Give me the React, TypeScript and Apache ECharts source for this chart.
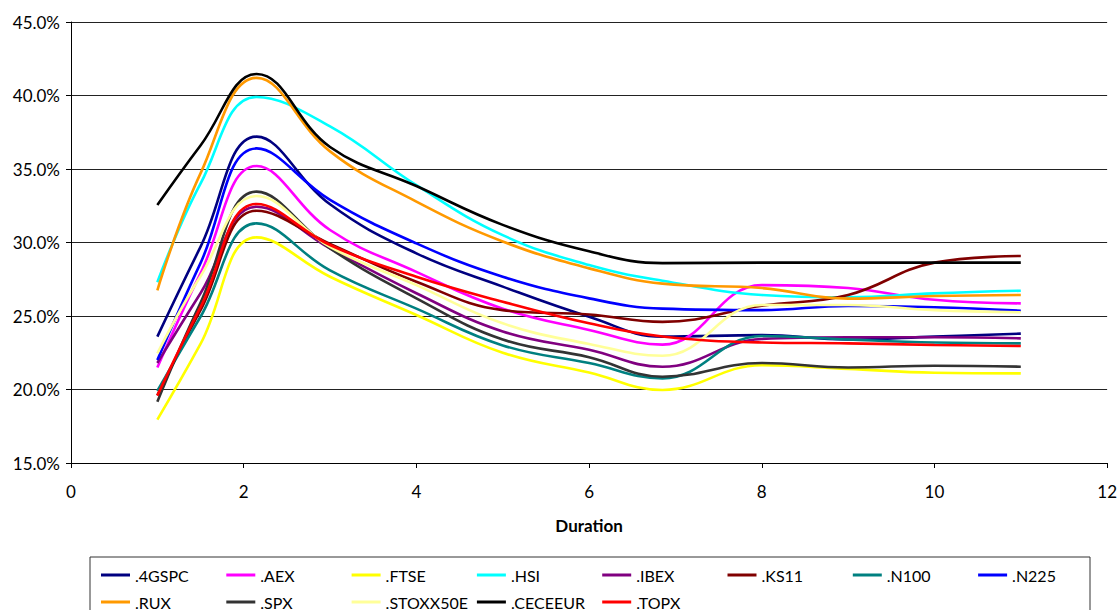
import React, { useEffect, useRef } from "react";
import * as echarts from "echarts";

const durations = [1, 1.5, 2.15, 3, 4, 5, 6, 6.85, 8, 9, 10, 11];

const seriesNames = [
  ".4GSPC", ".AEX", ".FTSE", ".HSI", ".IBEX", ".KS11", ".N100", ".N225",
  ".RUX", ".SPX", ".STOXX50E", ".CECEEUR", ".TOPX",
];

const seriesColors = [
  "#000080", "#FF00FF", "#FFFF00", "#00FFFF", "#800080", "#800000", "#008080", "#0000FF",
  "#FF9900", "#333333", "#FFFF99", "#000000", "#FF0000",
];

const gspc = [23.6, 29.7, 37.2, 32.6, 29.26, 27.0, 24.95, 23.6, 23.7, 23.4, 23.6, 23.8];
const aex = [21.5, 27.9, 35.2, 30.85, 28.0, 25.5, 24.05, 23.05, 27.1, 26.9, 26.1, 25.86];
const ftse = [17.95, 23.1, 30.35, 27.67, 25.07, 22.5, 21.15, 19.97, 21.65, 21.4, 21.14, 21.1];
const hsi = [27.3, 34.0, 39.9, 37.9, 33.9, 30.5, 28.47, 27.4, 26.43, 26.27, 26.54, 26.72];
const ibex = [21.8, 26.55, 32.43, 29.6, 26.55, 23.95, 22.7, 21.55, 23.44, 23.55, 23.55, 23.48];
const ks11 = [19.6, 25.4, 32.16, 29.9, 27.33, 25.4, 25.1, 24.6, 25.7, 26.43, 28.63, 29.08];
const n100 = [19.9, 24.95, 31.3, 28.1, 25.5, 23.0, 21.8, 20.76, 23.64, 23.4, 23.2, 23.14];
const n225 = [22.0, 28.6, 36.4, 32.9, 29.94, 27.67, 26.2, 25.5, 25.4, 25.68, 25.6, 25.36];
const rux = [26.75, 34.7, 41.2, 36.2, 32.78, 30.07, 28.24, 27.2, 26.9, 26.18, 26.36, 26.43];
const spx = [19.17, 25.9, 33.46, 29.6, 26.2, 23.4, 22.2, 20.87, 21.8, 21.5, 21.62, 21.55];
const stoxx = [22.46, 27.7, 33.16, 29.7, 27.1, 24.5, 23.1, 22.3, 25.75, 25.75, 25.4, 25.25];
const cece = [32.55, 36.6, 41.46, 36.5, 33.84, 31.2, 29.4, 28.6, 28.63, 28.63, 28.63, 28.63];
const topx = [19.58, 25.6, 32.62, 29.83, 27.67, 25.97, 24.5, 23.6, 23.2, 23.14, 23.03, 22.96];

const seriesValues = [gspc, aex, ftse, hsi, ibex, ks11, n100, n225, rux, spx, stoxx, cece, topx];

const yTicks = { min: 15, max: 45, interval: 5 };
const xTicks = { min: 0, max: 12, interval: 2 };
const xTitle = "Duration";

const FONT = "Lato";

export default function App() {
  const ref = useRef<HTMLDivElement>(null);

  useEffect(() => {
    document.body.style.margin = "0";
    const chart = echarts.init(ref.current!, null, { renderer: "svg" });

    const series = seriesNames.map((name, i) => ({
      name,
      type: "line",
      data: durations.map((d, j) => [d, seriesValues[i][j]]),
      smooth: 0.42,
      showSymbol: false,
      symbol: "none",
      lineStyle: { color: seriesColors[i], width: 2.6 },
      itemStyle: { color: seriesColors[i] },
    }));

    const perRow = 8;
    const legends = seriesNames.map((name, i) => ({
      orient: "horizontal",
      left: 96 + (i % perRow) * 125.3,
      top: i < perRow ? 562 : 589,
      itemWidth: 29,
      itemHeight: 3,
      icon: "rect",
      textStyle: { fontFamily: FONT, fontSize: 16, color: "#000" },
      selectedMode: false,
      data: [name],
    }));

    chart.setOption({
      animation: false,
      backgroundColor: "#fff",
      grid: { left: 71, right: 10, top: 22, bottom: 147, containLabel: false },
      xAxis: {
        type: "value",
        min: xTicks.min,
        max: xTicks.max,
        interval: xTicks.interval,
        name: xTitle,
        nameLocation: "middle",
        nameGap: 54,
        nameTextStyle: { fontFamily: FONT, fontSize: 17, fontWeight: "bold", color: "#000" },
        axisLine: { show: true, lineStyle: { color: "#000", width: 1 } },
        axisTick: { show: true, inside: false, length: 5, lineStyle: { color: "#000" } },
        axisLabel: { fontFamily: FONT, fontSize: 17, color: "#000", margin: 20 },
        splitLine: { show: false },
      },
      yAxis: {
        type: "value",
        min: yTicks.min,
        max: yTicks.max,
        interval: yTicks.interval,
        axisLine: { show: true, lineStyle: { color: "#000", width: 1 } },
        axisTick: { show: true, inside: false, length: 5, lineStyle: { color: "#000" } },
        axisLabel: {
          fontFamily: FONT,
          fontSize: 17,
          color: "#000",
          margin: 11,
          formatter: (v: number) => v.toFixed(1) + "%",
        },
        splitLine: { show: true, lineStyle: { color: "#222", width: 1 } },
      },
      legend: legends,
      graphic: [
        {
          type: "rect",
          shape: { x: 90, y: 557, width: 1000, height: 70 },
          style: { fill: "none", stroke: "#333", lineWidth: 1 },
          silent: true,
        },
      ],
      series,
    });

    return () => chart.dispose();
  }, []);

  return <div ref={ref} style={{ width: 1120, height: 610 }} />;
}
